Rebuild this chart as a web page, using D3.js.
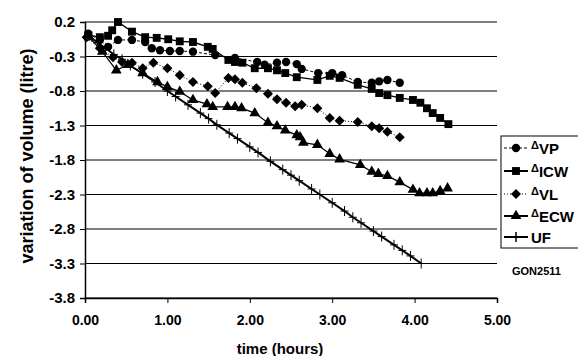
<!DOCTYPE html>
<html>
<head>
<meta charset="utf-8">
<script src="https://cdn.jsdelivr.net/npm/d3@7"></script>
<style>
  body { margin: 0; background: #fff; }
  text { font-family: Arial, "Liberation Sans", sans-serif; font-weight: bold; fill: #000; }
</style>
</head>
<body>
<svg id="chart" width="578" height="356"></svg>
<script>
// values: [time (hours), variation (litre)]
const dVP = [[0.04,0.03],[0.18,-0.06],[0.28,-0.16],[0.40,-0.06],[0.57,-0.06],[0.73,-0.09],[0.81,-0.18],[0.91,-0.21],[1.03,-0.22],[1.15,-0.22],[1.31,-0.23],[1.58,-0.28],[1.82,-0.32],[2.09,-0.38],[2.18,-0.42],[2.33,-0.39],[2.44,-0.38],[2.57,-0.41],[2.63,-0.48],[2.83,-0.54],[3.00,-0.54],[3.12,-0.57],[3.31,-0.67],[3.48,-0.68],[3.57,-0.66],[3.67,-0.64],[3.82,-0.68]];
const dICW = [[0.04,0.01],[0.18,-0.02],[0.28,0.00],[0.33,0.08],[0.40,0.20],[0.57,0.06],[0.73,-0.02],[0.87,-0.03],[1.01,-0.05],[1.15,-0.08],[1.31,-0.09],[1.49,-0.16],[1.55,-0.19],[1.74,-0.35],[1.82,-0.38],[1.91,-0.39],[2.06,-0.47],[2.22,-0.47],[2.33,-0.50],[2.43,-0.54],[2.57,-0.60],[2.82,-0.64],[2.97,-0.58],[3.09,-0.61],[3.31,-0.71],[3.48,-0.77],[3.57,-0.83],[3.67,-0.86],[3.82,-0.90],[3.98,-0.93],[4.07,-0.97],[4.15,-1.05],[4.22,-1.12],[4.31,-1.19],[4.41,-1.28]];
const dVL = [[0.02,-0.02],[0.18,-0.18],[0.34,-0.31],[0.45,-0.38],[0.57,-0.39],[0.70,-0.47],[0.83,-0.39],[1.00,-0.47],[1.15,-0.57],[1.31,-0.67],[1.49,-0.73],[1.58,-0.83],[1.74,-0.61],[1.82,-0.63],[1.91,-0.68],[2.08,-0.76],[2.22,-0.84],[2.33,-0.92],[2.44,-0.97],[2.55,-1.02],[2.63,-1.00],[2.82,-1.05],[2.97,-1.19],[3.09,-1.23],[3.31,-1.25],[3.48,-1.31],[3.57,-1.34],[3.67,-1.39],[3.82,-1.47]];
const dECW = [[0.05,-0.02],[0.21,-0.23],[0.38,-0.50],[0.52,-0.42],[0.70,-0.54],[0.88,-0.67],[1.00,-0.74],[1.15,-0.81],[1.31,-0.93],[1.48,-0.99],[1.55,-1.03],[1.73,-1.03],[1.82,-1.03],[1.90,-1.05],[2.06,-1.12],[2.22,-1.26],[2.33,-1.31],[2.43,-1.37],[2.57,-1.44],[2.61,-1.47],[2.65,-1.55],[2.82,-1.58],[2.97,-1.71],[3.09,-1.79],[3.34,-1.87],[3.48,-1.97],[3.56,-2.00],[3.67,-2.03],[3.82,-2.12],[3.98,-2.23],[4.06,-2.28],[4.15,-2.28],[4.22,-2.28],[4.31,-2.25],[4.40,-2.21]];
const dUF = [[0.05,0.00],[0.15,-0.10],[0.25,-0.18],[0.35,-0.27],[0.45,-0.34],[0.55,-0.43],[0.70,-0.55],[0.85,-0.67],[1.00,-0.80],[1.10,-0.88],[1.25,-1.00],[1.40,-1.12],[1.50,-1.20],[1.60,-1.29],[1.75,-1.41],[1.85,-1.49],[2.00,-1.61],[2.10,-1.69],[2.25,-1.82],[2.40,-1.94],[2.50,-2.02],[2.60,-2.10],[2.75,-2.22],[2.85,-2.30],[3.00,-2.42],[3.15,-2.54],[3.25,-2.63],[3.35,-2.71],[3.50,-2.83],[3.60,-2.91],[3.75,-3.03],[3.85,-3.11],[3.95,-3.19],[4.08,-3.30]];

const yTicks = [0.2, -0.3, -0.8, -1.3, -1.8, -2.3, -2.8, -3.3, -3.8];
const xTicks = [0, 1, 2, 3, 4, 5];
const legendNames = ["VP", "ICW", "VL", "ECW", "UF"];

const svg = d3.select("#chart");

const x = d3.scaleLinear().domain([0, 5]).range([85, 497]);
const y = d3.scaleLinear().domain([-3.8, 0.2]).range([298, 22]);

// grid
svg.append("g")
  .selectAll("line")
  .data(yTicks)
  .enter()
  .append("line")
  .attr("x1", x(0)).attr("x2", x(5))
  .attr("y1", d => y(d)).attr("y2", d => y(d))
  .attr("stroke", "#000")
  .attr("stroke-width", 1);

const yAxis = svg.append("g")
  .attr("transform", `translate(${x(0)},0)`)
  .call(d3.axisLeft(y).tickValues(yTicks).tickFormat(d => d.toFixed(1)).tickSize(5).tickPadding(5));

const xAxis = svg.append("g")
  .attr("transform", `translate(0,${y(-3.8)})`)
  .call(d3.axisBottom(x).tickValues(xTicks).tickFormat(d => d.toFixed(2)).tickSize(5).tickPadding(12));

[yAxis, xAxis].forEach((g, i) => {
  g.select(".domain").attr("stroke", "#000").attr("stroke-width", 1.5);
  g.selectAll(".tick line").attr("stroke", "#000");
  g.selectAll("text")
    .style("font-family", "Arial, 'Liberation Sans', sans-serif")
    .style("font-weight", "bold")
    .style("font-size", i === 0 ? "15px" : "14px")
    .attr("fill", "#000");
});

svg.append("text")
  .attr("text-anchor", "middle")
  .attr("transform", "translate(33,156) rotate(-90)")
  .style("font-size", "18px")
  .text("variation of volume (litre)");

svg.append("text")
  .attr("text-anchor", "middle")
  .attr("x", 280)
  .attr("y", 354)
  .style("font-size", "15px")
  .text("time (hours)");

const line = d3.line().x(d => x(d[0])).y(d => y(d[1]));

// rotated-square diamond (falls back to the plain diamond)
const diamond = d3.symbolDiamond2 || d3.symbolDiamond;

const styles = [
  { data: dVP,  dash: "3,2", width: 1,   sym: d3.symbolCircle,   size: 55, fill: "#000" },
  { data: dICW, dash: null,  width: 1.3, sym: d3.symbolSquare,   size: 62, fill: "#000" },
  { data: dVL,  dash: "1,2", width: 1,   sym: diamond,           size: 64, fill: "#000" },
  { data: dECW, dash: null,  width: 1.3, sym: d3.symbolTriangle, size: 50, fill: "#000" },
  { data: dUF,  dash: null,  width: 2,   sym: null,              size: 0,  fill: "none" }
];

const plusPath = "M-4,0H4M0,-5V5";

styles.slice().reverse().forEach(s => {
  svg.append("path")
    .datum(s.data)
    .attr("d", line)
    .attr("fill", "none")
    .attr("stroke", "#000")
    .attr("stroke-width", s.width)
    .attr("stroke-dasharray", s.dash);

  const pts = svg.append("g").selectAll("path")
    .data(s.data)
    .enter()
    .append("path")
    .attr("transform", d => `translate(${x(d[0])},${y(d[1])})`);
  if (s.sym) {
    pts.attr("d", d3.symbol().type(s.sym).size(s.size)).attr("fill", s.fill);
  } else {
    pts.attr("d", plusPath).attr("stroke", "#000").attr("stroke-width", 1);
  }
});

// legend
const legend = svg.append("g");
legend.append("rect")
  .attr("x", 501).attr("y", 136)
  .attr("width", 100).attr("height", 112)
  .attr("fill", "#fff")
  .attr("stroke", "#000")
  .attr("stroke-width", 1);

const rowY = [148, 171, 194, 216, 237];
styles.forEach((s, i) => {
  const g = legend.append("g").attr("transform", `translate(0,${rowY[i]})`);
  g.append("line")
    .attr("x1", 504).attr("x2", 528)
    .attr("stroke", "#000")
    .attr("stroke-width", s.dash ? 1 : 2)
    .attr("stroke-dasharray", s.dash);
  const m = g.append("path").attr("transform", "translate(516,0)");
  if (s.sym) {
    m.attr("d", d3.symbol().type(s.sym).size(s.size)).attr("fill", s.fill);
  } else {
    m.attr("d", plusPath).attr("stroke", "#000").attr("stroke-width", 1.5);
  }
  const t = g.append("text").attr("x", 531).attr("y", 6).style("font-size", "15px");
  if (i < 4) {
    t.append("tspan").text("\u0394").style("font-size", "11px").attr("dy", -5);
    t.append("tspan").text(legendNames[i]).attr("dy", 5);
  } else {
    t.text(legendNames[i]);
  }
});

svg.append("text")
  .attr("x", 512)
  .attr("y", 275)
  .style("font-size", "11px")
  .text("GON2511");
</script>
</body>
</html>
